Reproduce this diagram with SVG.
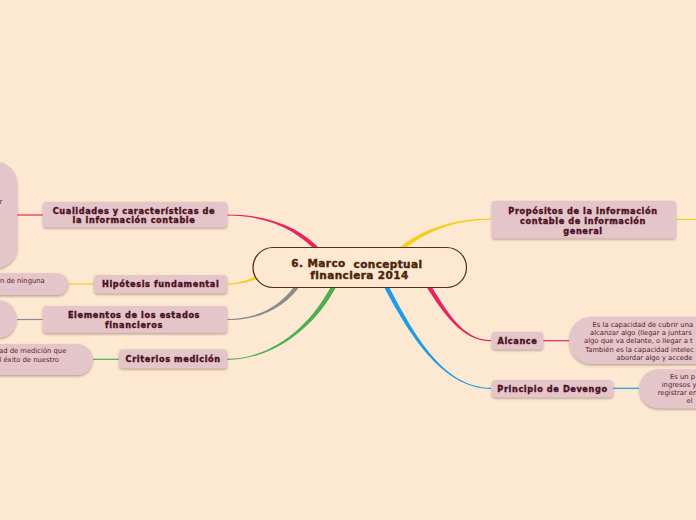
<svg xmlns="http://www.w3.org/2000/svg" width="696" height="520" viewBox="0 0 696 520">
<defs>
<filter id="sh" x="-10%" y="-20%" width="120%" height="160%">
<feDropShadow dx="0" dy="1.5" stdDeviation="0.8" flood-color="#6b4a4a" flood-opacity="0.45"/>
</filter>
<style>
.node{fill:#e4c5c9;filter:url(#sh)}
.sub{fill:#e4c5c9;filter:url(#sh)}
.nt{font-family:"DejaVu Sans",sans-serif;font-weight:bold;font-size:8.2px;letter-spacing:0.6px;fill:#4a0e1e;stroke:#4a0e1e;stroke-width:0.35px;text-anchor:middle}
.st{font-family:"DejaVu Sans",sans-serif;font-size:6.8px;fill:#5a1a2a}
.ct{font-family:"DejaVu Sans",sans-serif;font-weight:bold;font-size:10.5px;letter-spacing:0.4px;fill:#4a2508;stroke:#4a2508;stroke-width:0.4px;text-anchor:middle}
.ln{fill:none;stroke-width:1.2}
</style>
</defs>
<rect width="696" height="520" fill="#fde8d2"/>
<g id="connectors">
<path d="M 321.6 250.5 C 301.6 228.5 270 214.4 227 214.4 L 227 215.6 C 270 215.6 298.4 231.5 318.4 253.5 Z" fill="#e8245f"/>
<path d="M 267.2 270.4 C 251.2 278.4 242 283.4 227 283.4 L 227 284.6 C 242 284.6 252.8 281.6 268.8 273.6 Z" fill="#f5cf1f"/>
<path d="M 298.2 280.8 C 283.2 303.8 262 318.9 227 318.9 L 227 320.1 C 262 320.1 286.8 306.2 301.8 283.2 Z" fill="#8c8c8c"/>
<path d="M 333.9 281 C 309.9 329 270 358.7 227 358.7 L 227 359.9 C 270 359.9 314.1 331 338.1 283 Z" fill="#4caf50"/>
<path d="M 399.5 253.6 C 421.5 233.6 452 219.8 491 219.8 L 491 218.6 C 452 218.6 418.5 230.4 396.5 250.4 Z" fill="#f5cf1f"/>
<path d="M 424.1 283.2 C 443.1 313.2 462 341.3 491 341.3 L 491 340.1 C 462 340.1 446.9 310.8 427.9 280.8 Z" fill="#e8245f"/>
<path d="M 382 283.1 C 408 333.1 442 388.9 491 388.9 L 491 387.7 C 442 387.7 412 330.9 386 280.9 Z" fill="#1e9be8"/>
<line class="ln" x1="17" y1="215" x2="43" y2="215" stroke="#e8245f"/>
<line class="ln" x1="68" y1="284" x2="94" y2="284" stroke="#f5cf1f"/>
<line class="ln" x1="17" y1="319.5" x2="43" y2="319.5" stroke="#8c8c8c"/>
<line class="ln" x1="93" y1="359.3" x2="119" y2="359.3" stroke="#4caf50"/>
<line class="ln" x1="676" y1="219.5" x2="696" y2="219.5" stroke="#f5cf1f"/>
<line class="ln" x1="543" y1="340.7" x2="569" y2="340.7" stroke="#e8245f"/>
<line class="ln" x1="613" y1="388.3" x2="639" y2="388.3" stroke="#1e9be8"/>
</g>
<g id="central">
<rect x="253" y="247.5" width="213.5" height="40" rx="20" fill="#fde8d2" stroke="#5a300f" stroke-width="1.2"/>
<text class="ct" x="318.5" y="267">6. Marco</text>
<text class="ct" x="388" y="268">conceptual</text>
<text class="ct" x="359.5" y="278.5">financiera 2014</text>
</g>
<g id="cualidades">
<rect class="node" x="42.7" y="201.7" width="184.6" height="25.6" rx="4"/>
<text class="nt" x="134" y="213.5">Cualidades y características de</text>
<text class="nt" x="134" y="223">la información contable</text>
</g>
<g id="cualidades-sub">
<rect class="sub" x="-100" y="161.7" width="117.3" height="106.6" rx="22"/>
<text class="st" x="-0.5" y="204">r</text>
</g>
<g id="hipotesis">
<rect class="node" x="94" y="275" width="133.3" height="18.3" rx="4"/>
<text class="nt" x="160.7" y="287.3">Hipótesis fundamental</text>
</g>
<g id="hipotesis-sub">
<rect class="sub" x="-60" y="273.3" width="128.3" height="21.7" rx="10.8"/>
<text class="st" x="0" y="282.5">n de ninguna</text>
</g>
<g id="elementos">
<rect class="node" x="42.7" y="306" width="184.6" height="26.7" rx="4"/>
<text class="nt" x="134" y="318">Elementos de los estados</text>
<text class="nt" x="134" y="327.5">financieros</text>
</g>
<g id="elementos-sub">
<rect class="sub" x="-40" y="300" width="56.7" height="38" rx="19"/>
</g>
<g id="criterios">
<rect class="node" x="119" y="349.3" width="108.3" height="19" rx="4"/>
<text class="nt" x="173.2" y="362">Criterios medición</text>
</g>
<g id="criterios-sub">
<rect class="sub" x="-60" y="344" width="152.7" height="31" rx="15.5"/>
<text class="st" x="-1" y="352.8">ad de medición que</text>
<text class="st" x="-0.5" y="361.8">l éxito de nuestro</text>
</g>
<g id="propositos">
<rect class="node" x="491.7" y="200.7" width="184.3" height="37.6" rx="4"/>
<text class="nt" x="583" y="213.5">Propósitos de la información</text>
<text class="nt" x="583" y="223.5">contable de información</text>
<text class="nt" x="583" y="233.5">general</text>
</g>
<g id="alcance">
<rect class="node" x="491.7" y="331.7" width="51.6" height="17.6" rx="4"/>
<text class="nt" x="517.5" y="344.3">Alcance</text>
</g>
<g id="alcance-sub">
<rect class="sub" x="569.3" y="316.7" width="200" height="47.3" rx="22"/>
<text class="st" x="592.5" y="326.5">Es la capacidad de cubrir una</text>
<text class="st" x="590" y="335">alcanzar algo (llegar a juntars</text>
<text class="st" x="584" y="343.3">algo que va delante, o llegar a t</text>
<text class="st" x="585.3" y="351.6">También es la capacidad intelec</text>
<text class="st" x="616.5" y="360">abordar algo y accede</text>
</g>
<g id="devengo">
<rect class="node" x="491.7" y="380" width="121.6" height="17.3" rx="4"/>
<text class="nt" x="552.5" y="392.3">Principio de Devengo</text>
</g>
<g id="devengo-sub">
<rect class="sub" x="639.3" y="369.3" width="130" height="39" rx="19"/>
<text class="st" x="670" y="378.5">Es un p</text>
<text class="st" x="661.7" y="386.8">ingresos y</text>
<text class="st" x="657.7" y="395">registrar en</text>
<text class="st" x="686.5" y="403.3">el</text>
</g>
</svg>
